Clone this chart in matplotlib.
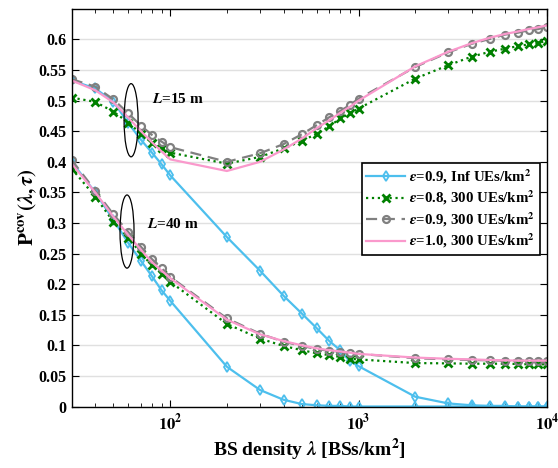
import matplotlib
matplotlib.use("Agg")
import matplotlib.pyplot as plt
from matplotlib.patches import Ellipse
from matplotlib.ticker import LogLocator, NullFormatter

plt.rcParams['font.family'] = ['Liberation Serif', 'DejaVu Serif']
plt.rcParams['font.weight'] = 'bold'
plt.rcParams['mathtext.fontset'] = 'stix'

# BS density (BSs/km^2)
lam = [30, 40, 50, 60, 70, 80, 90, 100, 200, 300, 400, 500, 600, 700, 800, 900,
       1000, 2000, 3000, 4000, 5000, 6000, 7000, 8000, 9000, 10000]

# eps=0.9, Inf UEs/km^2
inf_L15 = [0.533, 0.520, 0.498, 0.463, 0.436, 0.415, 0.396, 0.378, 0.277, 0.222, 0.181, 0.152, 0.128,
           0.107, 0.092, 0.074, 0.066, 0.016, 0.005, 0.002, 0.001, 0.001, 0.0, 0.0, 0.0, 0.0]
inf_L40 = [0.400, 0.350, 0.305, 0.267, 0.238, 0.213, 0.190, 0.173, 0.065, 0.027, 0.011, 0.004, 0.002,
           0.001, 0.001, 0.0, 0.0, 0.0, 0.0, 0.0, 0.0, 0.0, 0.0, 0.0, 0.0, 0.0]

# eps=0.8, 300 UEs/km^2
e08_L15 = [0.505, 0.498, 0.482, 0.464, 0.446, 0.431, 0.422, 0.415, 0.397, 0.408, 0.422, 0.434, 0.446,
           0.458, 0.471, 0.479, 0.487, 0.536, 0.558, 0.572, 0.580, 0.585, 0.589, 0.592, 0.594, 0.598]
e08_L40 = [0.389, 0.343, 0.302, 0.276, 0.250, 0.231, 0.217, 0.204, 0.135, 0.111, 0.099, 0.092, 0.087,
           0.084, 0.081, 0.078, 0.077, 0.071, 0.0705, 0.070, 0.070, 0.070, 0.0695, 0.069, 0.069, 0.069]

# eps=0.9, 300 UEs/km^2
e09_L15 = [0.535, 0.523, 0.502, 0.479, 0.459, 0.444, 0.433, 0.424, 0.400, 0.414, 0.429, 0.445, 0.460,
           0.473, 0.483, 0.493, 0.503, 0.555, 0.579, 0.593, 0.601, 0.608, 0.611, 0.615, 0.617, 0.621]
e09_L40 = [0.403, 0.353, 0.314, 0.285, 0.261, 0.241, 0.226, 0.212, 0.144, 0.119, 0.106, 0.099, 0.094,
           0.091, 0.089, 0.087, 0.086, 0.079, 0.077, 0.076, 0.0755, 0.075, 0.075, 0.075, 0.075, 0.075]

# eps=1.0, 300 UEs/km^2
e10_L15 = [0.533, 0.517, 0.497, 0.472, 0.450, 0.432, 0.417, 0.404, 0.385, 0.400, 0.420, 0.438, 0.455,
           0.468, 0.480, 0.490, 0.500, 0.556, 0.580, 0.594, 0.603, 0.609, 0.613, 0.617, 0.620, 0.623]
e10_L40 = [0.397, 0.350, 0.310, 0.280, 0.256, 0.236, 0.222, 0.210, 0.142, 0.118, 0.107, 0.100, 0.095,
           0.092, 0.090, 0.088, 0.086, 0.080, 0.078, 0.077, 0.076, 0.0755, 0.075, 0.075, 0.075, 0.075]

yticks = [0, 0.05, 0.1, 0.15, 0.2, 0.25, 0.3, 0.35, 0.4, 0.45, 0.5, 0.55, 0.6]
ytick_labels = ['0', '0.05', '0.1', '0.15', '0.2', '0.25', '0.3', '0.35', '0.4',
                '0.45', '0.5', '0.55', '0.6']
xticks = [1e2, 1e3, 1e4]
xtick_labels = [r'$\mathbf{10^{2}}$', r'$\mathbf{10^{3}}$', r'$\mathbf{10^{4}}$']

blue = (0.30, 0.75, 0.93)
green = (0.0, 0.5, 0.0)
gray = (0.5, 0.5, 0.5)
pink = (0.98, 0.6, 0.8)

fig = plt.figure(figsize=(5.58, 4.68), dpi=100)
ax = fig.add_axes([0.1285, 0.1314, 0.8515, 0.8496])

styles = [
    (inf_L15, inf_L40, dict(color=blue, ls='-', marker='d', ms=5, mfc='none', mew=1.3),
     r'$\epsilon$=0.9, Inf UEs/km$^{\mathbf{2}}$'),
    (e08_L15, e08_L40, dict(color=green, ls=':', marker='x', ms=6, mew=2),
     r'$\epsilon$=0.8, 300 UEs/km$^{\mathbf{2}}$'),
    (e09_L15, e09_L40, dict(color=gray, ls='--', dashes=(5, 3), marker='o', ms=5, mfc='none', mew=1.6),
     r'$\epsilon$=0.9, 300 UEs/km$^{\mathbf{2}}$'),
    (e10_L15, e10_L40, dict(color=pink, ls='-'),
     r'$\epsilon$=1.0, 300 UEs/km$^{\mathbf{2}}$'),
]
for y15, y40, kw, label in styles:
    ax.plot(lam, y15, lw=1.6, label=label, **kw)
    ax.plot(lam, y40, lw=1.6, **kw)

ax.set_xscale('log')
ax.set_xlim(30, 1e4)
ax.set_ylim(0, 0.65)
ax.set_yticks(yticks)
ax.set_yticklabels(ytick_labels)
ax.set_xticks(xticks)
ax.set_xticklabels(xtick_labels)
ax.xaxis.set_minor_locator(LogLocator(base=10, subs=range(2, 10)))
ax.xaxis.set_minor_formatter(NullFormatter())
ax.grid(axis='y', color=(0.88, 0.88, 0.88), lw=1)
ax.set_axisbelow(True)
ax.tick_params(which='both', direction='in', top=True, right=True)
ax.tick_params(axis='y', labelsize=11.5)
ax.tick_params(axis='x', labelsize=12, pad=5)
ax.tick_params(which='major', length=5)
ax.tick_params(which='minor', length=3)
for sp in ax.spines.values():
    sp.set_linewidth(1.0)
for lab in ax.get_yticklabels():
    lab.set_fontweight('bold')

ax.set_xlabel(r'BS density $\lambda$ [BSs/km$^{\mathbf{2}}$]', fontsize=14, fontweight='bold', labelpad=2)
ax.set_ylabel(r'$\mathbf{P}^{\mathbf{cov}}(\lambda,\tau)$', fontsize=15, labelpad=0)

# group ellipses and labels
fig.canvas.draw()
for (cx, cy), txt, (tx, ty) in [((62, 0.468), r'$L$=15 m', (80, 0.503)),
                                 ((59, 0.286), r'$L$=40 m', (75, 0.299))]:
    c = ax.transAxes.inverted().transform(ax.transData.transform((cx, cy)))
    ax.add_patch(Ellipse(c, 0.0295, 0.184, transform=ax.transAxes, fill=False,
                         ec='black', lw=0.9, zorder=5))
    ax.text(tx, ty, txt, fontsize=11, fontweight='bold', va='center', ha='left')

leg = ax.legend(loc='upper right', bbox_to_anchor=(0.985, 0.613), borderaxespad=0,
                fontsize=10.7, fancybox=False, framealpha=1, edgecolor='black',
                handlelength=2.6, handletextpad=0.3, labelspacing=0.2, borderpad=0.3)
leg.get_frame().set_linewidth(1.2)
for t in leg.get_texts():
    t.set_fontweight('bold')

fig.savefig('out.png', dpi=100)
